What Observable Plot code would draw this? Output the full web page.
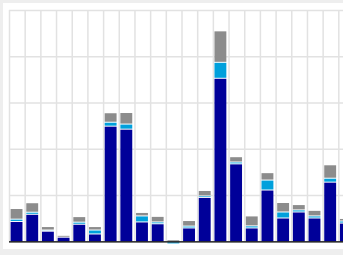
<!DOCTYPE html>
<html>
<head>
<meta charset="utf-8">
<script src="https://cdn.jsdelivr.net/npm/d3@7"></script>
<script src="https://cdn.jsdelivr.net/npm/@observablehq/plot@0.6"></script>
<style>
  html, body { margin: 0; padding: 0; background: #eeeeee; overflow: hidden; width: 343px; height: 255px; }
  #panel { position: absolute; left: 3px; top: 3px; width: 400px; height: 246px; background: #ffffff; }
  #chart { position: absolute; left: 0; top: 0; }
</style>
</head>
<body>
<div id="panel"></div>
<div id="chart"></div>
<script>
// Category index (22 columns, last one cut off by the frame)
const categories = d3.range(22);
const series = ["Series 1", "Series 2", "Series 3"];
const series1Values = [8.8, 11.9, 4.6, 2.0, 7.6, 3.4, 50.0, 48.7, 8.6, 7.8, 0, 6.0, 19.2, 70.7, 33.7, 6.0, 22.4, 10.3, 12.9, 10.3, 25.8, 8.1];
const series2Values = [1.0, 0.9, 0.5, 0, 0.9, 1.7, 1.7, 2.2, 2.6, 0.8, -0.9, 0.8, 0.7, 6.9, 0.8, 0.9, 4.3, 2.6, 0.9, 0.9, 1.7, 0.9];
const series3Values = [4.6, 4.1, 1.5, 0.8, 2.4, 1.5, 4.1, 5.0, 1.5, 2.4, 0.9, 2.4, 2.3, 13.6, 2.3, 4.3, 3.2, 4.1, 2.3, 2.4, 5.8, 1.1];
const xTicks = d3.range(23);
const yTicks = [0, 20, 40, 60, 80, 100];
const colors = ["#000099", "#00a0dc", "#8c8c8c"];

const valuesBySeries = [series1Values, series2Values, series3Values];
const data = [];
series.forEach((s, k) => {
  categories.forEach((c, i) => {
    const v = valuesBySeries[k][i];
    if (v !== 0) data.push({i: c, i2: c + 1, series: s, value: v});
  });
});

const chart = Plot.plot({
  width: 360,
  height: 249,
  marginLeft: 9,
  marginRight: 6,
  marginTop: 10,
  marginBottom: 7.67,
  style: {background: "transparent", maxWidth: "none", overflow: "visible"},
  x: {domain: [0, 22], axis: null},
  y: {domain: [0, 100], axis: null},
  color: {type: "ordinal", domain: series, range: colors},
  marks: [
    Plot.ruleX(xTicks, {x: d => d, stroke: "#e2e2e2", strokeWidth: 1.5}),
    Plot.ruleY(yTicks, {y: d => d, stroke: "#e2e2e2", strokeWidth: 1.5}),
    Plot.rectY(data, {
      x1: "i", x2: "i2", y: "value", fill: "series",
      insetLeft: 1.6, insetRight: 2.2, insetTop: 1
    }),
    Plot.ruleY([0], {stroke: "#000000", strokeWidth: 1.2})
  ]
});
document.getElementById("chart").appendChild(chart);
</script>
</body>
</html>
